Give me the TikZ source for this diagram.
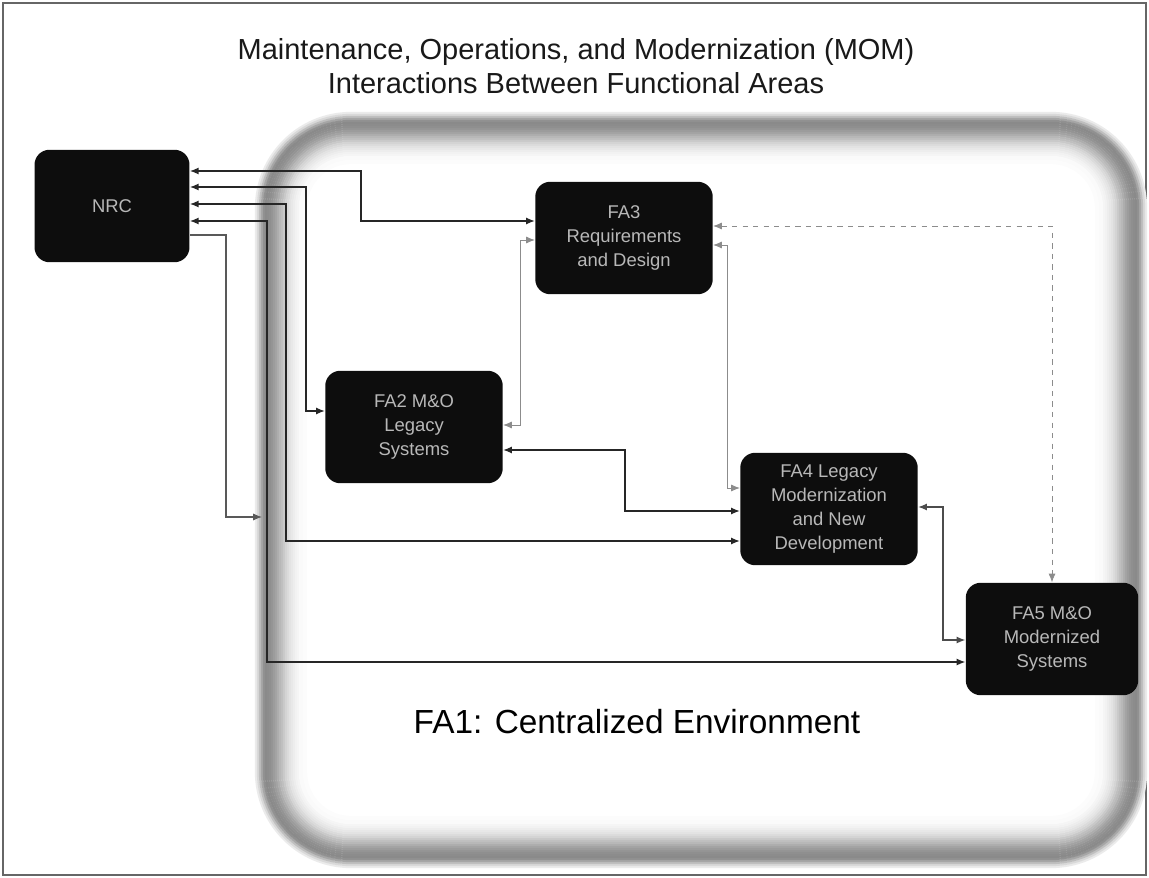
\documentclass[tikz,border=0pt]{standalone}
\usepackage{fontspec}
\setmainfont{Liberation Sans}
\usetikzlibrary{arrows.meta}

\begin{document}
\begin{tikzpicture}[x=0.02cm, y=-0.02cm,
    fa/.style={fill=black!95, rounded corners=0.3cm, text=black!28, align=center,
        font=\fontsize{10.5}{13.5}\selectfont, inner sep=0pt,
        minimum width=3.55cm, minimum height=2.25cm},
    link/.style={{Latex[length=5pt,width=4pt]}-{Latex[length=5pt,width=4pt]}, line width=0.8pt, black!85},
    minor/.style={link, line width=0.5pt, black!45}]
    \useasboundingbox (0,0) rectangle (1149,878);
    \draw[black!60, line width=0.6pt] (3,3) rectangle (1146,875);

    % FA1 ring
    \foreach \k in {0,2,...,50} {
        \pgfmathtruncatemacro\c{\k<10 ? 46*exp(-((\k-10)^2)/60) : 46*exp(-((\k-10)^2)/420)}
        \pgfmathsetmacro\rad{1.9-0.02*\k}
        \draw[line width=0.046cm, black!\c, rounded corners=\rad cm]
            (256+\k,113+\k) rectangle (1146-\k,867-\k);
    }

    \node[font=\fontsize{16.5}{19.5}\selectfont, text=black!90, align=center] (title) at (576,66)
        {Maintenance, Operations, and Modernization (MOM)\\Interactions Between Functional Areas};
    \node[font=\fontsize{19}{23}\selectfont, text=black] (fa1) at (637,722) {FA1: Centralized Environment};

    \node[fa, minimum width=3.1cm] (nrc) at (112,206) {NRC};
    \node[fa] (fa3) at (624,238) {FA3\\Requirements\\and Design};
    \node[fa] (fa2) at (414,427) {FA2 M\&O\\Legacy\\Systems};
    \node[fa] (fa4) at (829,509) {FA4 Legacy\\Modernization\\and New\\Development};
    \node[fa, minimum width=3.45cm] (fa5) at (1052,639) {FA5 M\&O\\Modernized\\Systems};
    \coordinate (fa1in) at (262,517);

    % NRC to the functional areas
    \draw[link] (nrc.east |- 0,171) -| (361,221) -- (fa3.west |- 0,221);
    \draw[link] (nrc.east |- 0,187) -| (306,411) -- (fa2.west |- 0,411);
    \draw[link] (nrc.east |- 0,204) -| (286,541) -- (fa4.west |- 0,541);
    \draw[link] (nrc.east |- 0,221) -| (267,662) -- (fa5.west |- 0,662);
    \draw[-{Latex[length=5pt,width=4pt]}, black!65, line width=0.6pt]
        (nrc.east |- 0,235) -| (226,517) -- (fa1in);

    % between the functional areas
    \draw[minor] (fa2.east |- 0,425) -| (520,240) -- (fa3.west |- 0,240);
    \draw[minor] (fa3.east |- 0,245) -| (727,488) -- (fa4.west |- 0,488);
    \draw[minor, dashed] (fa3.east |- 0,226) -| (fa5.north);
    \draw[link] (fa2.east |- 0,450) -| (625,511) -- (fa4.west |- 0,511);
    \draw[link, black!70] (fa4.east |- 0,507) -| (943,640) -- (fa5.west |- 0,640);
\end{tikzpicture}
\end{document}
